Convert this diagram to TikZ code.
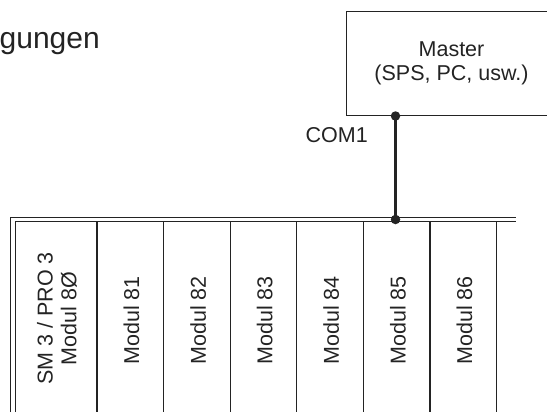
\documentclass[tikz,border=0pt]{standalone}
\usepackage{fontspec}
\setmainfont{Liberation Sans}
\usetikzlibrary{positioning}
\definecolor{drk}{RGB}{35,35,35}

\begin{document}
\begin{tikzpicture}[x=1bp, y=-1bp,
  txt/.style={font=\fontsize{21.5bp}{23.7bp}\selectfont, text=drk, inner sep=0pt},
  box/.style={txt, draw=drk, line width=1bp, align=center,
              minimum width=211bp, minimum height=103.8bp},
  modul/.style={txt, rotate=90, align=center},
  rack/.style={draw=drk, line width=1.2bp},
  com/.style={draw=drk, line width=2.8bp},
  dot/.style={circle, fill=drk, inner sep=0pt, minimum size=9.5bp}]
\useasboundingbox (0,0) rectangle (547,412);
\clip (0,0) rectangle (547,412);
% title (cut off)
\node[txt, font=\fontsize{30bp}{32bp}\selectfont, anchor=base east] (title) at (100,48) {gungen};
% master
\node[box] (master) at (451.5,63.6) {Master\\(SPS, PC, usw.)};
% rack
\draw[rack] (10.7,412) -- (10.7,217.3) -- (516,217.3);
\draw[rack] (15.3,412) -- (15.3,221.7) -- (516,221.7);
\foreach \i in {0,...,6}
  \draw[rack] ({97+66.6*\i},221.7) -- ({97+66.6*\i},412);
% modules
\node[modul] (m80) at (57,318.5) {SM 3 / PRO 3\\Modul 8Ø};
\foreach \i in {1,...,6}
  \node[modul] (m8\i) at ({131.5+66.6*(\i-1)},320.5) {Modul 8\i};
% bus connection
\coordinate (bus) at (395.5,219.5);
\draw[com] (master.south -| bus) -- (bus);
\node[dot] at (master.south -| bus) {};
\node[dot] at (bus) {};
\node[txt, anchor=base east] (com1) at (368,142.3) {COM1};
\end{tikzpicture}
\end{document}
